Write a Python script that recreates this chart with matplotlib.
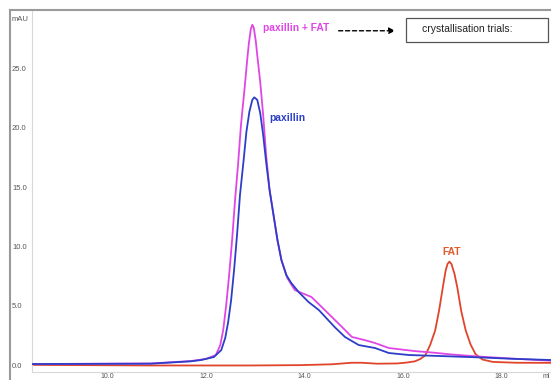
import matplotlib
matplotlib.use("Agg")
import matplotlib.pyplot as plt
from matplotlib.lines import Line2D
from matplotlib.patches import Rectangle

plt.rcParams['font.family'] = ['Liberation Sans', 'DejaVu Sans']

# volume (ml) and absorbance (mAU)
pf_x = [8.47, 10.88, 11.69, 12.0, 12.2, 12.29, 12.35, 12.41, 12.47, 12.53, 12.59, 12.65, 12.71,
        12.78, 12.84, 12.87, 12.91, 12.94, 12.97, 13.01, 13.04, 13.1, 13.16, 13.22, 13.29, 13.37,
        13.45, 13.53, 13.65, 13.8, 13.94, 14.14, 14.41, 14.76, 14.96, 15.22, 15.43, 15.71, 16.24,
        16.59, 17.0, 17.61, 18.22, 19.0]
pf_y = [0.17, 0.22, 0.42, 0.6, 0.93, 1.77, 3.04, 5.14, 7.67, 10.62, 14.0, 16.95, 20.32,
        23.27, 25.97, 27.2, 28.4, 28.75, 28.5, 27.4, 26.2, 23.95, 21.16, 17.79, 14.84, 12.73,
        10.62, 8.94, 7.42, 6.41, 6.16, 5.82, 4.72, 3.29, 2.45, 2.19, 1.94, 1.52, 1.26,
        1.14, 0.97, 0.78, 0.63, 0.45]

pax_x = [8.47, 10.88, 11.69, 11.9, 12.16, 12.31, 12.39, 12.45, 12.51, 12.57, 12.63, 12.69, 12.76,
         12.82, 12.88, 12.94, 12.98, 13.04, 13.1, 13.16, 13.22, 13.29, 13.37, 13.45, 13.53, 13.63,
         13.73, 13.88, 14.08, 14.29, 14.61, 14.82, 15.1, 15.43, 15.71, 16.12, 16.8, 17.61, 18.22,
         19.0]
pax_y = [0.17, 0.2, 0.4, 0.51, 0.76, 1.35, 2.36, 3.71, 5.56, 8.09, 11.05, 14.42, 17.2,
         19.73, 21.42, 22.43, 22.64, 22.43, 21.33, 19.48, 17.2, 14.84, 12.73, 10.62, 8.94, 7.67,
         7.0, 6.24, 5.40, 4.72, 3.29, 2.45, 1.77, 1.52, 1.10, 0.93, 0.84, 0.72, 0.61,
         0.51]

fat_x = [8.47, 10.88, 12.92, 13.94, 14.55, 14.96, 15.16, 15.47, 15.88, 16.08, 16.24, 16.35, 16.45,
         16.55, 16.65, 16.73, 16.8, 16.86, 16.9, 16.94, 16.98, 17.04, 17.1, 17.18, 17.27, 17.37,
         17.47, 17.61, 17.82, 18.29, 19.0]
fat_y = [0.1, 0.05, 0.05, 0.08, 0.15, 0.28, 0.28, 0.2, 0.22, 0.3, 0.4, 0.6, 0.9,
         1.8, 3.0, 4.7, 6.5, 8.0, 8.6, 8.8, 8.6, 7.8, 6.6, 4.6, 3.0, 1.8,
         1.0, 0.55, 0.35, 0.28, 0.27]

y_ticks = [0.0, 5.0, 10.0, 15.0, 20.0, 25.0]
x_ticks = [10.0, 12.0, 14.0, 16.0, 18.0]

fig = plt.figure(figsize=(5.51, 3.80), dpi=100)
ax = fig.add_axes([32 / 551, 8 / 380, 1 - 32 / 551, (372 - 10) / 380])
ax.set_xlim(8.47, 19.0)
ax.set_ylim(-0.5, 30.0)

ax.plot(fat_x, fat_y, color="#e0452c", lw=1.3, zorder=2, solid_joinstyle="round")
ax.plot(pf_x, pf_y, color="#e046e6", lw=1.3, zorder=3, solid_joinstyle="round")
ax.plot(pax_x, pax_y, color="#2c3ec8", lw=1.3, zorder=4, solid_joinstyle="round")

for s in ["top", "right"]:
    ax.spines[s].set_visible(False)
for s in ["left", "bottom"]:
    ax.spines[s].set_color("#d8d8d8")
    ax.spines[s].set_linewidth(0.8)

ax.set_xticks(x_ticks)
ax.set_xticklabels([f"{v:.1f}" for v in x_ticks])
ax.set_yticks(y_ticks)
ax.set_yticklabels([])
ax.tick_params(axis="x", length=0, labelsize=5, colors="#555555", pad=0.8)
ax.tick_params(axis="y", length=0)

ytr = ax.get_yaxis_transform()
for v in y_ticks:
    ax.text(-20 / 519, v, f"{v:.1f}", transform=ytr,
            ha="left", va="center", fontsize=5.5, color="#555555")
ax.text(-20 / 519, 29.2, "mAU", transform=ytr,
        ha="left", va="center", fontsize=5.5, color="#555555")
ax.text(18.82, -0.62, "ml", ha="left", va="top", fontsize=5, color="#555555")

# frame lines
fig.add_artist(Line2D([10 / 551, 1], [1 - 10 / 380, 1 - 10 / 380], color="#9a9a9a", lw=1.5,
                      transform=fig.transFigure))
fig.add_artist(Line2D([10 / 551, 10 / 551], [0, 1 - 10 / 380], color="#9a9a9a", lw=1.5,
                      transform=fig.transFigure))

# annotations
ax.text(13.16, 28.5, "paxillin + FAT", color="#e046e6", fontsize=7.4, fontweight="bold",
        ha="left", va="center")
ax.text(13.29, 20.9, "paxillin", color="#2c3ec8", fontsize=7.4, fontweight="bold",
        ha="left", va="center")
ax.text(16.98, 9.6, "FAT", color="#e05a2c", fontsize=7.4, fontweight="bold",
        ha="center", va="center")
ax.annotate("", xy=(15.84, 28.25), xytext=(14.69, 28.25),
            arrowprops=dict(arrowstyle="-|>", linestyle=(0, (3, 2)), color="black", lw=1.0,
                            mutation_scale=9, shrinkA=0, shrinkB=0))
ax.text(16.39, 28.4, "crystallisation trials:", fontsize=7.5, color="#222222", ha="left",
        va="center")
ax.add_patch(Rectangle((16.06, 27.3), 2.88, 2.04, fill=False, edgecolor="#555555", lw=0.9,
                       clip_on=False))

fig.savefig("out.png", dpi=100)
